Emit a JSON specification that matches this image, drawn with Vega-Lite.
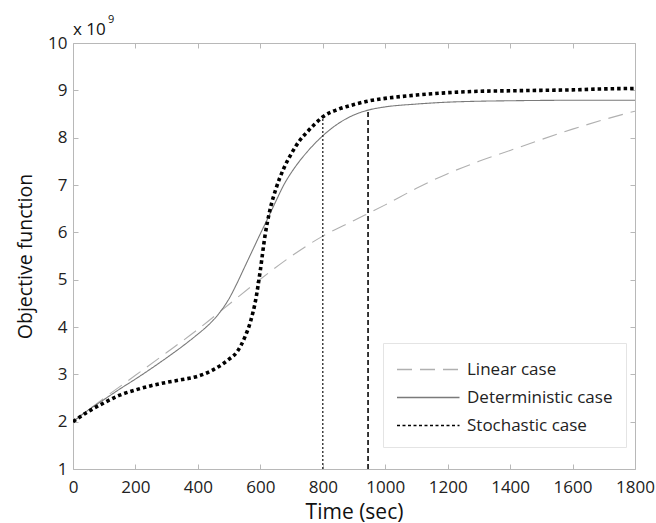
{
  "$schema": "https://vega.github.io/schema/vega-lite/v6.json",
  "width": 562,
  "height": 426,
  "autosize": "none",
  "padding": {"left": 73, "top": 43, "right": 21, "bottom": 54},
  "background": "white",
  "config": {
    "view": {"stroke": null},
    "font": "Open Sans",
    "axis": {
      "domainColor": "#b8b8b8",
      "domainWidth": 1,
      "tickColor": "#b8b8b8",
      "tickSize": -5,
      "grid": false,
      "labelColor": "#222222",
      "labelFontSize": 17,
      "labelFont": "Open Sans",
      "titleColor": "#111111",
      "titleFont": "Open Sans",
      "titleFontWeight": "normal"
    },
    "legend": {
      "orient": "none",
      "legendX": 310,
      "legendY": 300,
      "symbolType": "M-1,0H4",
      "symbolSize": 625,
      "labelFontSize": 17,
      "labelFont": "Open Sans",
      "labelColor": "#222222",
      "labelOffset": 44,
      "rowPadding": 6,
      "padding": 13,
      "strokeColor": "#e4e4e4"
    }
  },
  "datasets": {
    "curves": [
      {"t": 0, "v": 2.0, "s": "Linear case"},
      {"t": 100, "v": 2.5, "s": "Linear case"},
      {"t": 200, "v": 2.98, "s": "Linear case"},
      {"t": 300, "v": 3.46, "s": "Linear case"},
      {"t": 400, "v": 3.95, "s": "Linear case"},
      {"t": 500, "v": 4.48, "s": "Linear case"},
      {"t": 600, "v": 5.01, "s": "Linear case"},
      {"t": 700, "v": 5.5, "s": "Linear case"},
      {"t": 800, "v": 5.92, "s": "Linear case"},
      {"t": 900, "v": 6.25, "s": "Linear case"},
      {"t": 1000, "v": 6.58, "s": "Linear case"},
      {"t": 1100, "v": 6.93, "s": "Linear case"},
      {"t": 1200, "v": 7.24, "s": "Linear case"},
      {"t": 1300, "v": 7.5, "s": "Linear case"},
      {"t": 1400, "v": 7.73, "s": "Linear case"},
      {"t": 1500, "v": 7.96, "s": "Linear case"},
      {"t": 1600, "v": 8.18, "s": "Linear case"},
      {"t": 1700, "v": 8.38, "s": "Linear case"},
      {"t": 1800, "v": 8.56, "s": "Linear case"},

      {"t": 0, "v": 2.0, "s": "Deterministic case"},
      {"t": 50, "v": 2.25, "s": "Deterministic case"},
      {"t": 100, "v": 2.47, "s": "Deterministic case"},
      {"t": 150, "v": 2.69, "s": "Deterministic case"},
      {"t": 200, "v": 2.9, "s": "Deterministic case"},
      {"t": 250, "v": 3.12, "s": "Deterministic case"},
      {"t": 300, "v": 3.35, "s": "Deterministic case"},
      {"t": 350, "v": 3.59, "s": "Deterministic case"},
      {"t": 400, "v": 3.85, "s": "Deterministic case"},
      {"t": 425, "v": 3.99, "s": "Deterministic case"},
      {"t": 450, "v": 4.15, "s": "Deterministic case"},
      {"t": 475, "v": 4.35, "s": "Deterministic case"},
      {"t": 500, "v": 4.6, "s": "Deterministic case"},
      {"t": 525, "v": 4.92, "s": "Deterministic case"},
      {"t": 550, "v": 5.27, "s": "Deterministic case"},
      {"t": 575, "v": 5.62, "s": "Deterministic case"},
      {"t": 600, "v": 5.97, "s": "Deterministic case"},
      {"t": 625, "v": 6.31, "s": "Deterministic case"},
      {"t": 650, "v": 6.66, "s": "Deterministic case"},
      {"t": 675, "v": 7.0, "s": "Deterministic case"},
      {"t": 700, "v": 7.27, "s": "Deterministic case"},
      {"t": 725, "v": 7.5, "s": "Deterministic case"},
      {"t": 750, "v": 7.7, "s": "Deterministic case"},
      {"t": 775, "v": 7.88, "s": "Deterministic case"},
      {"t": 800, "v": 8.04, "s": "Deterministic case"},
      {"t": 850, "v": 8.3, "s": "Deterministic case"},
      {"t": 900, "v": 8.48, "s": "Deterministic case"},
      {"t": 950, "v": 8.59, "s": "Deterministic case"},
      {"t": 1000, "v": 8.65, "s": "Deterministic case"},
      {"t": 1100, "v": 8.71, "s": "Deterministic case"},
      {"t": 1200, "v": 8.75, "s": "Deterministic case"},
      {"t": 1300, "v": 8.77, "s": "Deterministic case"},
      {"t": 1400, "v": 8.78, "s": "Deterministic case"},
      {"t": 1600, "v": 8.79, "s": "Deterministic case"},
      {"t": 1800, "v": 8.79, "s": "Deterministic case"},

      {"t": 0, "v": 2.0, "s": "Stochastic case"},
      {"t": 50, "v": 2.22, "s": "Stochastic case"},
      {"t": 100, "v": 2.4, "s": "Stochastic case"},
      {"t": 150, "v": 2.56, "s": "Stochastic case"},
      {"t": 200, "v": 2.67, "s": "Stochastic case"},
      {"t": 250, "v": 2.76, "s": "Stochastic case"},
      {"t": 300, "v": 2.83, "s": "Stochastic case"},
      {"t": 350, "v": 2.89, "s": "Stochastic case"},
      {"t": 400, "v": 2.96, "s": "Stochastic case"},
      {"t": 450, "v": 3.1, "s": "Stochastic case"},
      {"t": 500, "v": 3.32, "s": "Stochastic case"},
      {"t": 525, "v": 3.47, "s": "Stochastic case"},
      {"t": 550, "v": 3.78, "s": "Stochastic case"},
      {"t": 570, "v": 4.15, "s": "Stochastic case"},
      {"t": 585, "v": 4.57, "s": "Stochastic case"},
      {"t": 600, "v": 5.2, "s": "Stochastic case"},
      {"t": 615, "v": 5.93, "s": "Stochastic case"},
      {"t": 630, "v": 6.45, "s": "Stochastic case"},
      {"t": 650, "v": 6.92, "s": "Stochastic case"},
      {"t": 675, "v": 7.35, "s": "Stochastic case"},
      {"t": 700, "v": 7.67, "s": "Stochastic case"},
      {"t": 725, "v": 7.93, "s": "Stochastic case"},
      {"t": 750, "v": 8.12, "s": "Stochastic case"},
      {"t": 775, "v": 8.29, "s": "Stochastic case"},
      {"t": 800, "v": 8.44, "s": "Stochastic case"},
      {"t": 850, "v": 8.6, "s": "Stochastic case"},
      {"t": 900, "v": 8.7, "s": "Stochastic case"},
      {"t": 950, "v": 8.78, "s": "Stochastic case"},
      {"t": 1000, "v": 8.83, "s": "Stochastic case"},
      {"t": 1100, "v": 8.9, "s": "Stochastic case"},
      {"t": 1200, "v": 8.95, "s": "Stochastic case"},
      {"t": 1300, "v": 8.98, "s": "Stochastic case"},
      {"t": 1400, "v": 8.99, "s": "Stochastic case"},
      {"t": 1500, "v": 9.0, "s": "Stochastic case"},
      {"t": 1600, "v": 9.01, "s": "Stochastic case"},
      {"t": 1700, "v": 9.03, "s": "Stochastic case"},
      {"t": 1800, "v": 9.04, "s": "Stochastic case"}
    ],
    "marker800": [{"t": 800, "low": 1, "high": 8.44}],
    "marker945": [{"t": 945, "low": 1, "high": 8.59}],
    "exponent": [{"t": 0, "v": 10}]
  },
  "layer": [
    {
      "data": {"name": "curves"},
      "transform": [{"filter": "datum.s !== 'Stochastic case'"}],
      "mark": {"type": "line", "interpolate": "monotone", "clip": true, "strokeWidth": 1.1},
      "encoding": {
        "x": {
          "field": "t", "type": "quantitative",
          "scale": {"domain": [0, 1800], "nice": false},
          "axis": {"values": [0, 200, 400, 600, 800, 1000, 1200, 1400, 1600, 1800], "format": "d", "labelPadding": 15, "title": "Time (sec)", "titleFontSize": 21, "titlePadding": 6, "labelFlush": false}
        },
        "y": {
          "field": "v", "type": "quantitative",
          "scale": {"domain": [1, 10], "nice": false},
          "axis": {"values": [1, 2, 3, 4, 5, 6, 7, 8, 9, 10], "format": "d", "labelPadding": 11, "title": "Objective function", "titleFontSize": 19.5, "titlePadding": 12, "labelFlush": false}
        },
        "color": {
          "field": "s", "type": "nominal",
          "scale": {"domain": ["Linear case", "Deterministic case", "Stochastic case"], "range": ["#b0b0b0", "#7a7a7a", "#000000"]},
          "legend": {"title": null}
        },
        "strokeDash": {
          "field": "s", "type": "nominal",
          "scale": {"domain": ["Linear case", "Deterministic case", "Stochastic case"], "range": [[15, 8], [1, 0], [3, 2.5]]},
          "legend": {"title": null}
        }
      }
    },
    {
      "data": {"name": "curves"},
      "transform": [{"filter": "datum.s === 'Stochastic case'"}],
      "mark": {"type": "line", "interpolate": "monotone", "clip": true, "strokeWidth": 3.6, "color": "#000000", "strokeDash": [3.5, 3]},
      "encoding": {
        "x": {"field": "t", "type": "quantitative", "axis": null},
        "y": {"field": "v", "type": "quantitative", "axis": null}
      }
    },
    {
      "data": {"name": "marker800"},
      "mark": {"type": "rule", "color": "#333333", "strokeWidth": 1.4, "strokeDash": [2, 2]},
      "encoding": {
        "x": {"field": "t", "type": "quantitative", "axis": {"orient": "top", "labels": false, "title": null, "values": [0, 200, 400, 600, 800, 1000, 1200, 1400, 1600, 1800]}},
        "y": {"field": "low", "type": "quantitative", "axis": {"orient": "right", "labels": false, "title": null, "values": [1, 2, 3, 4, 5, 6, 7, 8, 9, 10]}},
        "y2": {"field": "high"}
      }
    },
    {
      "data": {"name": "marker945"},
      "mark": {"type": "rule", "color": "#222222", "strokeWidth": 1.8, "strokeDash": [5, 3]},
      "encoding": {
        "x": {"field": "t", "type": "quantitative", "axis": null},
        "y": {"field": "low", "type": "quantitative", "axis": null},
        "y2": {"field": "high"}
      }
    },
    {
      "data": {"name": "exponent"},
      "mark": {"type": "text", "text": "x 10", "align": "left", "baseline": "alphabetic", "dy": -8, "fontSize": 17, "font": "Open Sans", "color": "#111111"},
      "encoding": {
        "x": {"field": "t", "type": "quantitative", "axis": null},
        "y": {"field": "v", "type": "quantitative", "axis": null}
      }
    },
    {
      "data": {"name": "exponent"},
      "mark": {"type": "text", "text": "9", "align": "left", "baseline": "alphabetic", "dx": 35, "dy": -20, "fontSize": 11, "font": "Open Sans", "color": "#111111"},
      "encoding": {
        "x": {"field": "t", "type": "quantitative", "axis": null},
        "y": {"field": "v", "type": "quantitative", "axis": null}
      }
    }
  ],
  "resolve": {"axis": {"x": "independent", "y": "independent"}}
}
